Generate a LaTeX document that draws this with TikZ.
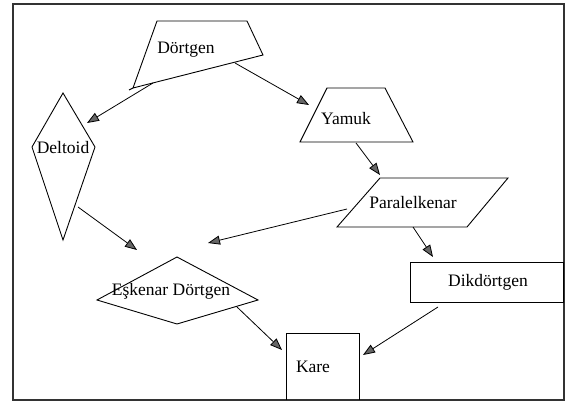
\documentclass[tikz,border=0pt]{standalone}
\usepackage{fontspec}
\setmainfont{Liberation Serif}
\usetikzlibrary{arrows.meta}
\tikzset{
  arr/.style={line width=0.8pt,-{Triangle[length=12pt,width=9pt,fill=black!60]}},
  lbl/.style={inner sep=0pt,font=\fontsize{17.5}{20}\selectfont},
  shp/.style={line width=0.9pt}
}
\begin{document}
\begin{tikzpicture}[x=1pt,y=-1pt]
\useasboundingbox (0,0) rectangle (574,404);
\fill[white] (0,0) rectangle (574,404);
\draw[line width=1.8pt,black!80] (13,4) rectangle (564,400);
% shapes
\draw[shp] (157,21) -- (247,21) -- (263,55) -- (133,88) -- cycle;
\draw[shp] (133,88) -- (129,90);
\draw[shp] (327,88) -- (385,88) -- (413,142) -- (300,142) -- cycle;
\draw[shp] (63,93) -- (95,147) -- (63,240) -- (32,147) -- cycle;
\draw[shp] (380,178) -- (508,178) -- (467,227) -- (337,227) -- cycle;
\draw[shp] (410,262) rectangle (563,302);
\draw[shp] (97,300) -- (177,257) -- (258,300) -- (177,324) -- cycle;
\draw[shp] (286,400) -- (286,333) -- (359,333) -- (359,400);
% labels
\node[lbl] (dortgen) at (186,50) {Dörtgen};
\node[lbl] (yamuk) at (346,119) {Yamuk};
\node[lbl] (deltoid) at (63,148) {Deltoid};
\node[lbl] (paralel) at (413,203) {Paralelkenar};
\node[lbl] (dikdortgen) at (488,282) {Dikdörtgen};
\node[lbl] (eskenar) at (171,291) {Eşkenar Dörtgen};
\node[lbl] (kare) at (313,367) {Kare};
% arrow ends
\coordinate (dortgen-l) at (153,83);
\coordinate (dortgen-r) at (235,63);
\coordinate (yamuk-b) at (356,143);
\coordinate (paralel-l) at (347,209);
\coordinate (paralel-b) at (413,227);
\coordinate (deltoid-r) at (78,207);
\coordinate (eskenar-r) at (237,307);
\coordinate (dikdortgen-b) at (438,307);
\coordinate (to-deltoid) at (87,123);
\coordinate (to-yamuk) at (309,105);
\coordinate (to-paralel) at (380,175);
\coordinate (to-eskenar-a) at (208,243);
\coordinate (to-eskenar-b) at (137,250);
\coordinate (to-dikdortgen) at (433,257);
\coordinate (to-kare-a) at (282,350);
\coordinate (to-kare-b) at (363,355);
% connectors
\draw[arr] (dortgen-l) -- (to-deltoid);
\draw[arr] (dortgen-r) -- (to-yamuk);
\draw[arr] (yamuk-b) -- (to-paralel);
\draw[arr] (paralel-l) -- (to-eskenar-a);
\draw[arr] (deltoid-r) -- (to-eskenar-b);
\draw[arr] (paralel-b) -- (to-dikdortgen);
\draw[arr] (eskenar-r) -- (to-kare-a);
\draw[arr] (dikdortgen-b) -- (to-kare-b);
\end{tikzpicture}
\end{document}
